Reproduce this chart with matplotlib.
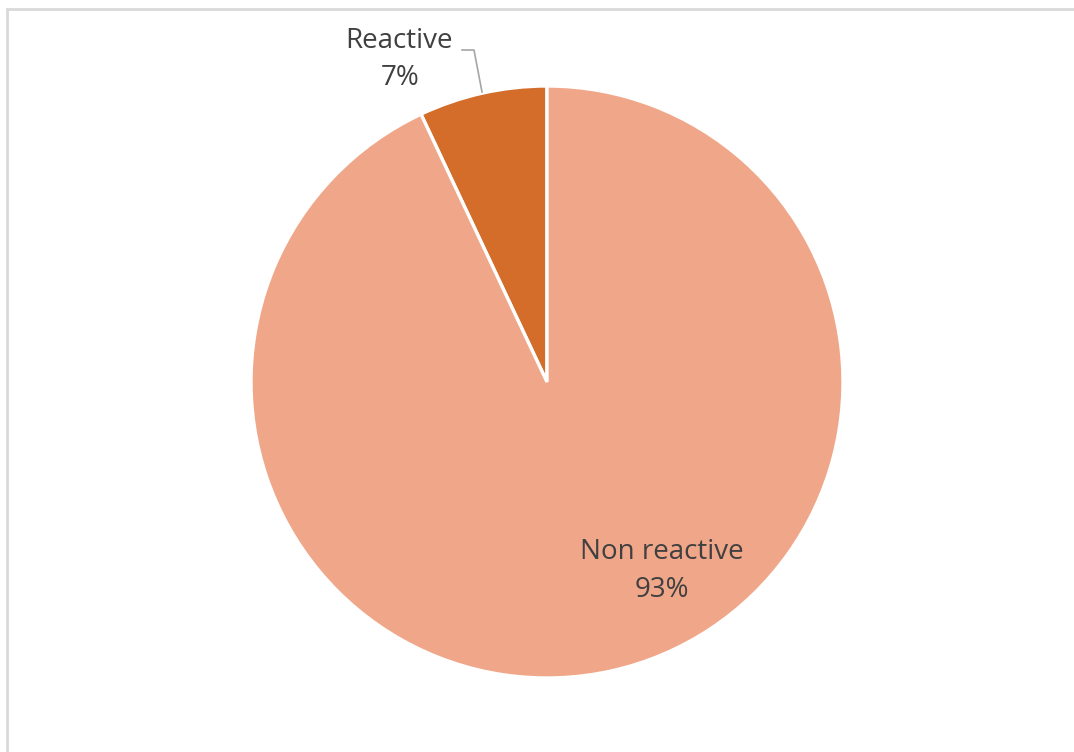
import matplotlib.pyplot as plt
from matplotlib.patches import Rectangle

# du lieu
labels = ["Reactive", "Non reactive"]
values = [7, 93]
colors = ["#D36D29", "#F0A789"]

fig = plt.figure(figsize=(10.74, 7.52), dpi=100)
ax = fig.add_axes([0, 0, 1, 1])
ax.set_xlim(0, 1074)
ax.set_ylim(0, 752)
ax.set_aspect("equal")
ax.axis("off")

# khung mo (canh phai va canh duoi nam ngoai anh)
ax.add_patch(Rectangle((7, -10), 1080, 752 - 9 + 10, fill=False,
                       edgecolor="#D9D9D9", linewidth=2))

ax.pie(
    values,
    colors=colors,
    startangle=90,
    counterclock=True,
    center=(547, 370),
    radius=296,
    wedgeprops=dict(edgecolor="white", linewidth=2.4),
)
ax.set_xlim(0, 1074)
ax.set_ylim(0, 752)

total = sum(values)
txt = dict(fontsize=20, color="#404040", family="Open Sans", ha="center", va="center")

# nhan Reactive
ax.text(399, 752 - 41, labels[0], **txt)
ax.text(400, 752 - 78, f"{values[0] / total * 100:.0f}%", **txt)
ax.plot([462, 474, 482], [752 - 50, 752 - 50, 752 - 92], color="#A6A6A6", linewidth=1.2)

# nhan Non reactive
ax.text(662, 752 - 552, labels[1], **txt)
ax.text(662, 752 - 590, f"{values[1] / total * 100:.0f}%", **txt)

plt.savefig("out.png", dpi=100)
